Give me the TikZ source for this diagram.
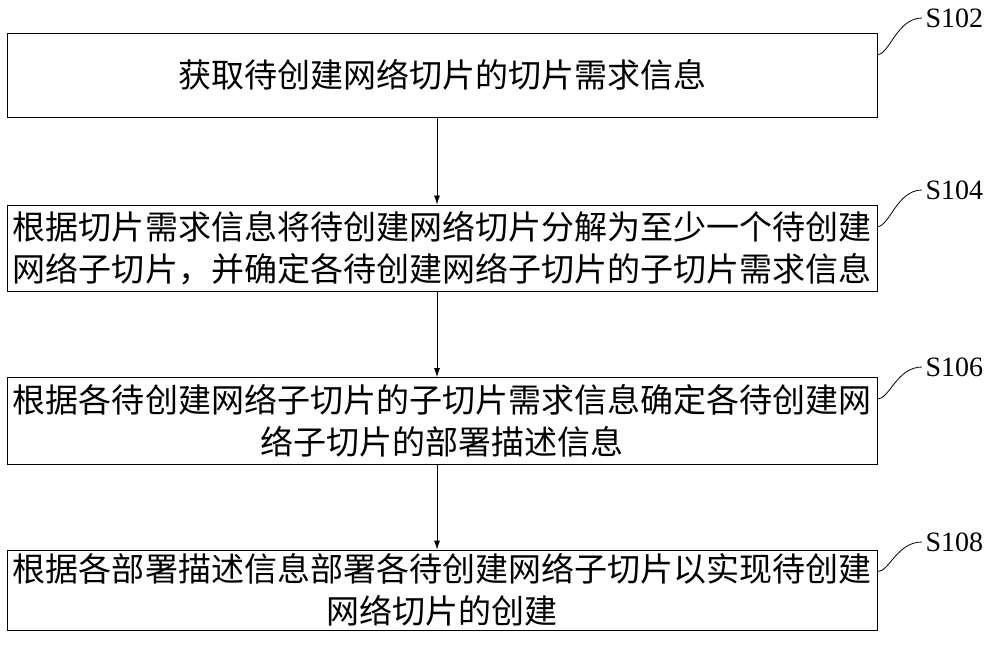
\documentclass[tikz,border=0pt]{standalone}
\usepackage{fontspec}
\setmainfont{Liberation Serif}
\newfontfamily\cjk{Noto Sans CJK SC}
\usetikzlibrary{arrows.meta}
\begin{document}
\begin{tikzpicture}[x=1pt,y=-1pt,
  stepbox/.style={draw,line width=0.8pt,minimum width=870pt,text width=866pt,align=center,
    font=\cjk\fontsize{33}{42}\selectfont,inner sep=0pt},
  lbl/.style={font=\fontsize{28}{30}\selectfont,anchor=west},
  arr/.style={-{Latex[length=9pt,width=6pt]},line width=0.8pt}]
\useasboundingbox (0,0) rectangle (1000,660);
\node[stepbox,minimum height=84pt] (b1) at (442,75) {获取待创建网络切片的切片需求信息};
\node[stepbox,minimum height=86pt] (b2) at (442,248) {根据切片需求信息将待创建网络切片分解为至少一个待创建\\网络子切片，并确定各待创建网络子切片的子切片需求信息};
\node[stepbox,minimum height=87pt] (b3) at (442,421) {根据各待创建网络子切片的子切片需求信息确定各待创建网\\络子切片的部署描述信息};
\node[stepbox,minimum height=80pt] (b4) at (442,590) {根据各部署描述信息部署各待创建网络子切片以实现待创建\\网络切片的创建};
\draw[arr] (b1.south -| 437,0) -- (b2.north -| 437,0);
\draw[arr] (b2.south -| 437,0) -- (b3.north -| 437,0);
\draw[arr] (b3.south -| 437,0) -- (b4.north -| 437,0);
\node[lbl] (l1) at (922,18) {S102};
\node[lbl] (l2) at (922,190) {S104};
\node[lbl] (l3) at (922,367) {S106};
\node[lbl] (l4) at (922,542) {S108};
\foreach \b/\l in {b1/l1,b2/l2,b3/l3,b4/l4}{
  \draw[line width=0.8pt] ([yshift=-22pt]\b.north east) .. controls +(12,0) and +(-25,0) .. (\l.west);
}
\end{tikzpicture}
\end{document}
